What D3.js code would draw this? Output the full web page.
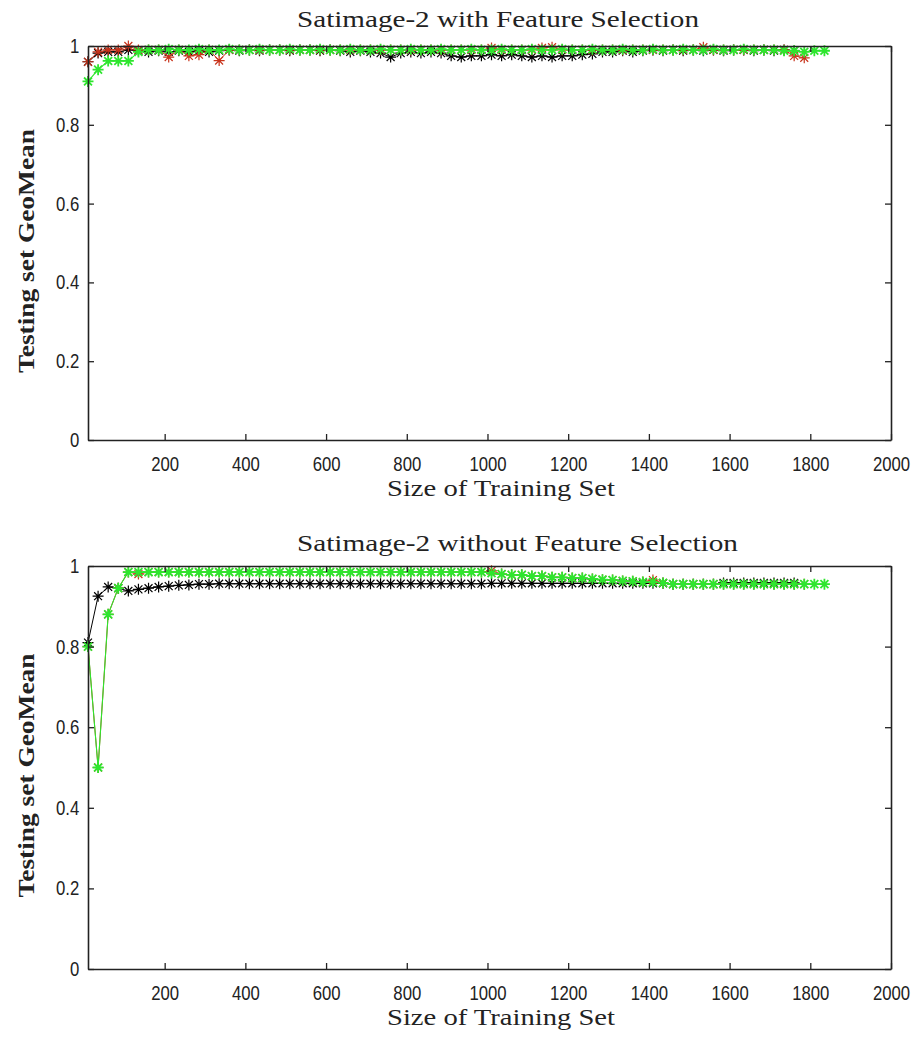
<!DOCTYPE html>
<html>
<head>
<meta charset="utf-8">
<script src="https://cdn.jsdelivr.net/npm/d3@7"></script>
<style>
  html, body { margin: 0; padding: 0; background: #fff; }
  svg { display: block; }
</style>
</head>
<body>
<svg id="chart" width="919" height="1037"></svg>
<script>
// Training set sizes (x values of every run)
const trainSizes = [10,35,60,85,110,135,160,185,210,235,260,285,310,335,360,385,410,435,460,485,
  510,535,560,585,610,635,660,685,710,735,760,785,810,835,860,885,910,935,960,985,
  1010,1035,1060,1085,1110,1135,1160,1185,1210,1235,1260,1285,1310,1335,1360,1385,1410,1435,1460,1485,
  1510,1535,1560,1585,1610,1635,1660,1685,1710,1735,1760,1785,1810,1835];

const xTicks = [200,400,600,800,1000,1200,1400,1600,1800,2000];
const yTicks = [0,0.2,0.4,0.6,0.8,1];

// --- Satimage-2 with feature selection ---
const fsBlack = [0.96,0.982,0.985,0.985,0.99,0.988,0.985,0.988,0.985,0.988,
  0.985,0.988,0.985,0.988,0.99,0.988,0.99,0.988,0.99,0.99,
  0.988,0.99,0.99,0.988,0.99,0.988,0.985,0.988,0.985,0.982,
  0.972,0.982,0.985,0.982,0.985,0.982,0.975,0.972,0.975,0.975,
  0.978,0.975,0.978,0.975,0.972,0.975,0.972,0.975,0.975,0.978,
  0.98,0.985,0.985,0.988,0.985,0.988,0.99,0.988,0.99,0.988,
  0.99,0.988,0.99,0.988,0.99,0.99,0.988,0.99,0.988,0.99,0.988];
const fsRed = [0.96,0.985,0.99,0.99,1.0,0.99,0.99,0.99,0.972,0.99,
  0.975,0.978,0.99,0.963,0.99,0.99,0.99,0.99,0.99,0.99,
  0.99,0.99,0.99,0.99,0.99,0.99,0.99,0.99,0.99,0.99,
  0.99,0.99,0.99,0.99,0.99,0.99,0.99,0.99,0.99,0.99,
  0.995,0.99,0.99,0.99,0.99,0.995,0.997,0.99,0.99,0.99,
  0.99,0.99,0.99,0.99,0.99,0.99,0.99,0.99,0.99,0.99,
  0.99,0.997,0.99,0.99,0.99,0.99,0.99,0.99,0.99,0.99,
  0.975,0.97];
const fsGreen = [0.91,0.94,0.962,0.962,0.962,0.985,0.99,0.99,0.992,0.99,
  0.99,0.992,0.99,0.99,0.992,0.99,0.99,0.992,0.99,0.99,
  0.992,0.99,0.99,0.992,0.99,0.99,0.992,0.99,0.99,0.992,
  0.99,0.99,0.992,0.99,0.99,0.992,0.99,0.99,0.992,0.99,
  0.99,0.992,0.99,0.99,0.992,0.99,0.99,0.992,0.99,0.99,
  0.992,0.99,0.99,0.992,0.99,0.99,0.992,0.99,0.99,0.992,
  0.99,0.99,0.992,0.99,0.99,0.992,0.99,0.99,0.99,0.988,
  0.988,0.985,0.988,0.988];

// --- Satimage-2 without feature selection ---
const noBlack = [0.81,0.925,0.948,0.945,0.938,0.942,0.945,0.948,0.95,0.952,
  0.953,0.955,0.955,0.956,0.956,0.956,0.956,0.956,0.956,0.956,
  0.956,0.956,0.956,0.956,0.956,0.956,0.956,0.956,0.956,0.956,
  0.956,0.956,0.956,0.956,0.956,0.956,0.956,0.956,0.956,0.956,
  0.957,0.957,0.957,0.957,0.957,0.957,0.957,0.957,0.957,0.957,
  0.957,0.957,0.957,0.957,0.957,0.957,0.957,0.957,0.955,0.955,
  0.955,0.955,0.955,0.958,0.958,0.958,0.958,0.958,0.958,0.958,0.958];
const noRed = [0.80,0.50,0.88,0.945,0.985,0.98,0.985,0.985,0.985,0.985,
  0.985,0.985,0.985,0.985,0.985,0.985,0.985,0.985,0.985,0.985,
  0.985,0.985,0.985,0.985,0.985,0.985,0.985,0.985,0.985,0.985,
  0.985,0.985,0.985,0.985,0.985,0.985,0.985,0.985,0.985,0.985,
  0.988,0.98,0.978,0.978,0.975,0.975,0.972,0.972,0.97,0.97,
  0.968,0.966,0.965,0.963,0.962,0.96,0.965,0.958,0.955,0.955,
  0.955,0.955,0.955,0.955,0.955,0.955,0.955,0.955,0.955,0.955,
  0.955,0.955];
const noGreen = [0.80,0.50,0.88,0.945,0.985,0.985,0.985,0.985,0.985,0.985,
  0.985,0.985,0.985,0.985,0.985,0.985,0.985,0.985,0.985,0.985,
  0.985,0.985,0.985,0.985,0.985,0.985,0.985,0.985,0.985,0.985,
  0.985,0.985,0.985,0.985,0.985,0.985,0.985,0.985,0.985,0.985,
  0.982,0.98,0.978,0.978,0.975,0.975,0.972,0.972,0.97,0.97,
  0.968,0.966,0.965,0.963,0.962,0.96,0.96,0.958,0.955,0.955,
  0.955,0.955,0.955,0.955,0.955,0.955,0.955,0.955,0.955,0.955,
  0.955,0.955,0.955,0.955];

const colors = { black: "#000000", red: "#c8321a", green: "#2ee62e" };

const panels = [
  { title: "Satimage-2 with Feature Selection", top: 46, bottom: 440,
    titleX: 297, titleY: 27, titleLen: 402,
    series: [["black", fsBlack], ["red", fsRed], ["green", fsGreen]] },
  { title: "Satimage-2 without Feature Selection", top: 566, bottom: 969,
    titleX: 297, titleY: 551, titleLen: 441,
    series: [["black", noBlack], ["red", noRed], ["green", noGreen]] }
];

const left = 88, right = 891;
const svg = d3.select("#chart");
const serif = "'Liberation Serif', 'Times New Roman', Times, serif";

// asterisk marker: horizontal, vertical and two diagonal strokes
function starPath(r) {
  const d = r * 0.72;
  return `M${-r},0H${r}M0,${-r}V${r}M${-d},${-d}L${d},${d}M${-d},${d}L${d},${-d}`;
}
const star = starPath(5.5);

panels.forEach(p => {
  const x = d3.scaleLinear().domain([10, 2000]).range([left, right]);
  const y = d3.scaleLinear().domain([0, 1]).range([p.bottom, p.top]);
  const g = svg.append("g");

  // title
  g.append("text")
    .attr("x", p.titleX).attr("y", p.titleY)
    .attr("textLength", p.titleLen).attr("lengthAdjust", "spacingAndGlyphs")
    .style("font-family", serif)
    .style("font-size", "24px").style("fill", "#222")
    .text(p.title);

  // series: line + asterisk markers
  p.series.forEach(([c, vals]) => {
    const pts = vals.map((v, i) => [trainSizes[i], v]);
    g.append("path")
      .datum(pts)
      .attr("fill", "none")
      .attr("stroke", colors[c])
      .attr("stroke-width", c === "green" ? 1.1 : 1)
      .attr("d", d3.line().x(d => x(d[0])).y(d => y(d[1])));
    g.append("g").selectAll("path")
      .data(pts).join("path")
      .attr("transform", d => `translate(${x(d[0])},${y(d[1])})`)
      .attr("d", star)
      .attr("fill", "none")
      .attr("stroke", colors[c])
      .attr("stroke-width", c === "green" ? 1.8 : 1.2);
  });

  const axisStyle = sel => {
    sel.selectAll(".domain").attr("stroke", "#222").attr("stroke-width", 1.6);
    sel.selectAll(".tick line").attr("stroke", "#222").attr("stroke-width", 1.3);
    sel.selectAll("text")
      .style("font-family", "'Liberation Sans', Arial, sans-serif")
      .style("font-size", "19px").attr("fill", "#222");
  };

  // bottom axis with labels
  const xb = g.append("g").attr("transform", `translate(0,${p.bottom})`)
    .call(d3.axisBottom(x).tickValues(xTicks).tickSize(-6).tickSizeOuter(0).tickPadding(15)
      .tickFormat(d3.format("d")));
  axisStyle(xb);
  xb.selectAll("text").attr("transform", "scale(0.88,1.08)");

  // top axis, ticks only
  const xt = g.append("g").attr("transform", `translate(0,${p.top})`)
    .call(d3.axisTop(x).tickValues(xTicks).tickSize(-6).tickSizeOuter(0).tickFormat(""));
  axisStyle(xt);

  // left axis with labels
  const yl = g.append("g").attr("transform", `translate(${left},0)`)
    .call(d3.axisLeft(y).tickValues(yTicks).tickSize(-6).tickSizeOuter(0).tickPadding(10)
      .tickFormat(d => d === 0 || d === 1 ? d3.format("d")(d) : d3.format(".1f")(d)));
  axisStyle(yl);
  yl.selectAll("text").attr("transform", "scale(0.88,1.08)");

  // right axis, ticks only
  const yr = g.append("g").attr("transform", `translate(${right},0)`)
    .call(d3.axisRight(y).tickValues(yTicks).tickSize(-6).tickSizeOuter(0).tickFormat(""));
  axisStyle(yr);

  // axis titles
  g.append("text")
    .attr("x", 501).attr("y", p.bottom + 56)
    .attr("text-anchor", "middle")
    .attr("textLength", 228).attr("lengthAdjust", "spacingAndGlyphs")
    .style("font-family", serif)
    .style("font-size", "24px").style("fill", "#222")
    .text("Size of Training Set");

  const cy = (p.top + p.bottom) / 2 + 8;
  g.append("text")
    .attr("transform", `translate(34,${cy}) rotate(-90)`)
    .attr("text-anchor", "middle")
    .attr("textLength", 244).attr("lengthAdjust", "spacingAndGlyphs")
    .style("font-family", serif)
    .style("font-weight", "bold")
    .style("font-size", "23px").style("fill", "#222")
    .text("Testing set GeoMean");
});
</script>
</body>
</html>
